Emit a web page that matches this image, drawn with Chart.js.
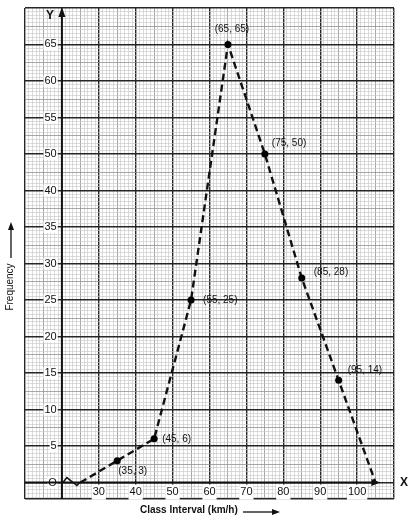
<!DOCTYPE html>
<html>
<head>
<meta charset="utf-8">
<script src="https://cdn.jsdelivr.net/npm/chart.js@4.4.1/dist/chart.umd.min.js"></script>
<style>
  html, body { margin: 0; padding: 0; background: #fff; }
  canvas { display: block; }
</style>
</head>
<body>
<canvas id="chart" width="413" height="520"></canvas>
<script>
// frequency polygon: class marks (km/h) and frequencies
const classMarks = [25, 35, 45, 55, 65, 75, 85, 95, 105]
const frequencies = [0, 3, 6, 25, 65, 50, 28, 14, 0]

const xTickValues = [30, 40, 50, 60, 70, 80, 90, 100]
const yTickValues = [0, 5, 10, 15, 20, 25, 30, 35, 40, 50, 55, 60, 65]
const yTickLabels = ['O', '5', '10', '15', '20', '25', '30', '35', '40', '50', '55', '60', '65']

// on the graph paper the square from 40 to 50 is a single 5-unit square
const yBreak = [40, 50]

const FONT = '"Liberation Sans", Arial, sans-serif'

function toGrid(v) {
  const g0 = yBreak[0] / 5
  if (v <= yBreak[0]) return v / 5
  if (v <= yBreak[1]) return g0 + (v - yBreak[0]) / (yBreak[1] - yBreak[0])
  return g0 + 1 + (v - yBreak[1]) / 5
}

function fromGrid(g) {
  const g0 = yBreak[0] / 5
  if (g <= g0) return g * 5
  if (g <= g0 + 1) return yBreak[0] + (g - g0) * (yBreak[1] - yBreak[0])
  return yBreak[1] + (g - g0 - 1) * 5
}

class BrokenScale extends Chart.LinearScale {
  static id = 'broken'

  buildTicks() {
    const ticks = [{ value: this.min }]
    const g0 = toGrid(this.min)
    const g1 = toGrid(this.max)
    for (let i = Math.ceil(g0 * 10); i <= Math.floor(g1 * 10); i++) {
      ticks.push({ value: fromGrid(i / 10) })
    }
    return ticks
  }

  getPixelForValue(v) {
    const g0 = toGrid(this.min)
    const g1 = toGrid(this.max)
    return this.getPixelForDecimal((toGrid(v) - g0) / (g1 - g0))
  }

  getValueForPixel(p) {
    const g0 = toGrid(this.min)
    const g1 = toGrid(this.max)
    return fromGrid(g0 + this.getDecimalForPixel(p) * (g1 - g0))
  }
}
Chart.register(BrokenScale)

// 0 = minor line, 1 = half line, 2 = major line
function xLineKind(v) {
  if (v % 10 === 0) return 2
  if (v % 5 === 0) return 1
  return 0
}

function yLineKind(v, scale) {
  if (v === scale.min || v === scale.max) return 2
  const i = Math.round(toGrid(v) * 10)
  if (i % 10 === 0) return 2
  if (i % 5 === 0) return 1
  return 0
}

const lineColors = ['#c4c4c4', '#929292', '#262626']
const lineWidths = [0.6, 0.8, 1.4]

function yLabelFor(v) {
  const i = yTickValues.findIndex(t => Math.abs(t - v) < 1e-6)
  return i >= 0 ? yTickLabels[i] : ''
}

const annotations = {
  id: 'annotations',
  afterDraw(chart) {
    const { ctx, chartArea } = chart
    const x = chart.scales.x
    const y = chart.scales.y
    const meta = chart.getDatasetMeta(0)
    const x0 = x.getPixelForValue(20)
    const y0 = y.getPixelForValue(0)
    const xt = x.getPixelForValue(106.3)

    ctx.save()
    ctx.fillStyle = '#111'
    ctx.strokeStyle = '#111'

    // axis lines
    ctx.lineWidth = 2
    ctx.beginPath()
    ctx.moveTo(x0, chartArea.bottom)
    ctx.lineTo(x0, chartArea.top + 4)
    ctx.moveTo(chartArea.left, y0)
    ctx.lineTo(xt - 4, y0)
    ctx.stroke()

    // coordinate labels next to the points
    const offsets = [null, [1, 11, 'left'], [8, 0, 'left'], [12, 0, 'left'], [4, -15, 'center'],
      [7, -11, 'left'], [12, -6, 'left'], [9, -10, 'left'], null]
    ctx.font = '10px ' + FONT
    ctx.textBaseline = 'middle'
    meta.data.forEach((pt, i) => {
      const o = offsets[i]
      if (!o) return
      ctx.textAlign = o[2]
      ctx.fillText('(' + classMarks[i] + ', ' + frequencies[i] + ')', pt.x + o[0], pt.y + o[1])
    })

    // arrow heads on the axes
    ctx.beginPath()
    ctx.moveTo(x0, chartArea.top - 1)
    ctx.lineTo(x0 - 3.5, chartArea.top + 9)
    ctx.lineTo(x0 + 3.5, chartArea.top + 9)
    ctx.closePath()
    ctx.fill()
    ctx.beginPath()
    ctx.moveTo(xt, y0)
    ctx.lineTo(xt - 9, y0 - 3.5)
    ctx.lineTo(xt - 9, y0 + 3.5)
    ctx.closePath()
    ctx.fill()

    // break in the x axis near the origin
    ctx.lineWidth = 1.5
    ctx.beginPath()
    ctx.moveTo(x0 + 1, y0)
    ctx.lineTo(x0 + 5, y0 - 5)
    ctx.lineTo(x0 + 15, y0 + 3)
    ctx.lineTo(x0 + 18, y0)
    ctx.stroke()

    // axis letters
    ctx.font = 'bold 12px ' + FONT
    ctx.textAlign = 'center'
    ctx.fillText('Y', x0 - 12, chartArea.top + 8)
    ctx.fillText('X', chartArea.right + 10, y0)

    // axis titles with arrows
    ctx.font = 'bold 10px ' + FONT
    ctx.textAlign = 'left'
    ctx.fillText('Class Interval (km/h)', 140, 510)
    ctx.lineWidth = 1.3
    ctx.beginPath()
    ctx.moveTo(243, 512)
    ctx.lineTo(273, 512)
    ctx.stroke()
    ctx.beginPath()
    ctx.moveTo(280, 512)
    ctx.lineTo(272, 509)
    ctx.lineTo(272, 515)
    ctx.closePath()
    ctx.fill()

    ctx.save()
    ctx.translate(10, 287)
    ctx.rotate(-Math.PI / 2)
    ctx.font = '10px ' + FONT
    ctx.textAlign = 'center'
    ctx.fillText('Frequency', 0, 0)
    ctx.restore()
    ctx.beginPath()
    ctx.moveTo(11, 258)
    ctx.lineTo(11, 229)
    ctx.stroke()
    ctx.beginPath()
    ctx.moveTo(11, 222)
    ctx.lineTo(8, 230)
    ctx.lineTo(14, 230)
    ctx.closePath()
    ctx.fill()

    ctx.restore()
  }
}

new Chart(document.getElementById('chart'), {
  type: 'line',
  data: {
    datasets: [{
      data: classMarks.map((cx, i) => ({ x: cx, y: frequencies[i] })),
      borderColor: '#111',
      borderWidth: 2.4,
      borderDash: [7, 4],
      pointRadius: ctx => (ctx.raw && ctx.raw.y > 0 ? 3.5 : 0),
      pointBackgroundColor: '#000',
      pointBorderWidth: 0,
      tension: 0,
      fill: false,
      clip: false
    }]
  },
  options: {
    responsive: false,
    animation: false,
    layout: { padding: { left: 25, right: 19, top: 0, bottom: 21 } },
    plugins: {
      legend: { display: false },
      tooltip: { enabled: false }
    },
    scales: {
      x: {
        type: 'linear',
        min: 10,
        max: 110,
        position: { y: 0 },
        afterBuildTicks: scale => {
          const ticks = []
          for (let v = 10; v <= 110; v++) ticks.push({ value: v })
          scale.ticks = ticks
        },
        grid: {
          drawTicks: false,
          color: ctx => lineColors[xLineKind(ctx.tick.value)],
          lineWidth: ctx => lineWidths[xLineKind(ctx.tick.value)]
        },
        border: { display: false },
        ticks: {
          autoSkip: false,
          maxRotation: 0,
          minRotation: 0,
          padding: 3,
          color: '#111',
          font: { family: FONT, size: 11 },
          callback: v => (xTickValues.includes(v) ? String(v) : ''),
          showLabelBackdrop: true,
          backdropPadding: 1,
          backdropColor: ctx => (xTickValues.includes(ctx.tick.value) ? '#fff' : 'rgba(0,0,0,0)')
        }
      },
      y: {
        type: 'broken',
        min: -2.25,
        max: 70,
        // labels are drawn at this x, so it sits a little left of the y axis at 20
        position: { x: 18.6 },
        grid: {
          drawTicks: false,
          color: ctx => lineColors[yLineKind(ctx.tick.value, ctx.scale)],
          lineWidth: ctx => lineWidths[yLineKind(ctx.tick.value, ctx.scale)]
        },
        border: { display: false },
        ticks: {
          autoSkip: false,
          color: '#111',
          font: { family: FONT, size: 11, lineHeight: 0.9 },
          callback: v => yLabelFor(v),
          showLabelBackdrop: true,
          backdropPadding: 1,
          backdropColor: ctx => (yLabelFor(ctx.tick.value) ? '#fff' : 'rgba(0,0,0,0)')
        }
      }
    }
  },
  plugins: [annotations]
})
</script>
</body>
</html>
